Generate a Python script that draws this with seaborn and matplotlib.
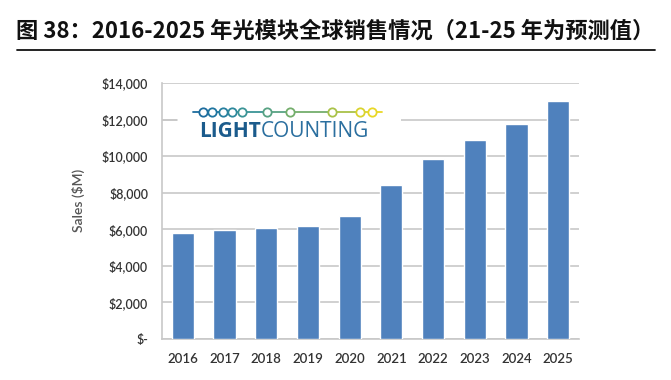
import matplotlib
matplotlib.use("Agg")
import matplotlib.pyplot as plt
import seaborn as sns
import pandas as pd
from matplotlib.patches import Rectangle

years = ["2016", "2017", "2018", "2019", "2020", "2021", "2022", "2023", "2024", "2025"]
sales = [5800, 5970, 6080, 6180, 6730, 8420, 9840, 10880, 11760, 13020]
ytick_vals = [0, 2000, 4000, 6000, 8000, 10000, 12000, 14000]
ytick_labels = ["$-", "$2,000", "$4,000", "$6,000", "$8,000", "$10,000", "$12,000", "$14,000"]
title = "图 38：2016-2025 年光模块全球销售情况（21-25 年为预测值）"

# logo circles (figure pixel x) and colours
logo_x = [203, 212, 223, 232, 242, 267, 290, 332, 360, 372]
logo_colors = ["#1d6c9e", "#1f75a0", "#267f9f", "#2d889c", "#3b9496",
               "#58a283", "#74ae6c", "#a9c249", "#d9d32f", "#e9d826"]

sns.set_theme(style="white")
plt.rcParams["font.family"] = ["Lato", "DejaVu Sans"]

W, H = 671, 380
fig = plt.figure(figsize=(W / 100, H / 100), dpi=100)
ax = fig.add_axes([162 / W, 1 - 339 / H, 417 / W, 256 / H])

df = pd.DataFrame({"year": years, "sales": sales})
sns.barplot(data=df, x="year", y="sales", color="#4f81bd", saturation=1,
            width=0.53, ax=ax, zorder=3)

ax.set_ylim(0, 14000)
ax.set_xlim(-0.5, 9.5)
ax.set_yticks(ytick_vals)
ax.set_yticklabels(ytick_labels)
ax.yaxis.grid(True, color="#c8c8c8", linewidth=1.2, zorder=0)
ax.set_axisbelow(True)
for s in ["top", "right"]:
    ax.spines[s].set_visible(False)
ax.spines["left"].set_color("#c8c8c8")
ax.spines["bottom"].set_color("#c8c8c8")
ax.spines["left"].set_linewidth(1.2)
ax.spines["bottom"].set_linewidth(1.2)
ax.tick_params(axis="y", length=0, labelsize=9, labelcolor="#333333", pad=10)
ax.tick_params(axis="x", length=0, labelsize=9.5, labelcolor="#333333", pad=10)
for lbl in ax.get_xticklabels() + ax.get_yticklabels():
    lbl.set_fontweight("semibold")
ax.set_xlabel("")
ax.set_ylabel("Sales ($M)", fontsize=10, color="#555555", fontweight="semibold")
ax.yaxis.set_label_coords((85 - 162) / 417, (339 - 200) / 256)

# logo background covering the gridline
ax.add_patch(Rectangle(((177 - 162) / 417, (339 - 142) / 256), (401 - 177) / 417, 42 / 256,
                       transform=ax.transAxes, facecolor="white", edgecolor="none", zorder=1))
ax.plot([(162 - 162) / 417, (177 - 162) / 417], [12000 / 14000] * 2, transform=ax.transAxes,
        color="#c8c8c8", lw=1.2, zorder=2)

# logo line and circles in figure coords
ly = 1 - 112 / H
pts = [193] + logo_x + [382]
cols = [logo_colors[0]] + logo_colors + [logo_colors[-1]]
for i in range(len(pts) - 1):
    fig.add_artist(plt.Line2D([pts[i] / W, pts[i + 1] / W], [ly, ly], color=cols[i], lw=1.3))
for x, c in zip(logo_x, logo_colors):
    fig.add_artist(plt.Line2D([x / W], [ly], marker="o", markersize=6, markerfacecolor="white",
                              markeredgecolor=c, markeredgewidth=1.3, linestyle="none"))
fig.text(261 / W, 1 - 131 / H, "LIGHT", fontsize=15, fontweight="bold", color="#1b5b8c",
         ha="right", va="center", family=["Open Sans", "DejaVu Sans"])
fig.text(261 / W, 1 - 131 / H, "COUNTING", fontsize=15, color="#2b6f9f",
         ha="left", va="center", family=["Open Sans", "DejaVu Sans"])

# title and underline
fig.text(16 / W, 1 - 31 / H, title, fontsize=16, fontweight="bold", color="#111111",
         ha="left", va="center", family=["Noto Sans CJK SC", "DejaVu Sans"])
fig.add_artist(plt.Line2D([17 / W, 655 / W], [1 - 50 / H] * 2, color="#111111", lw=1.3))

fig.savefig("out.png", dpi=100)
